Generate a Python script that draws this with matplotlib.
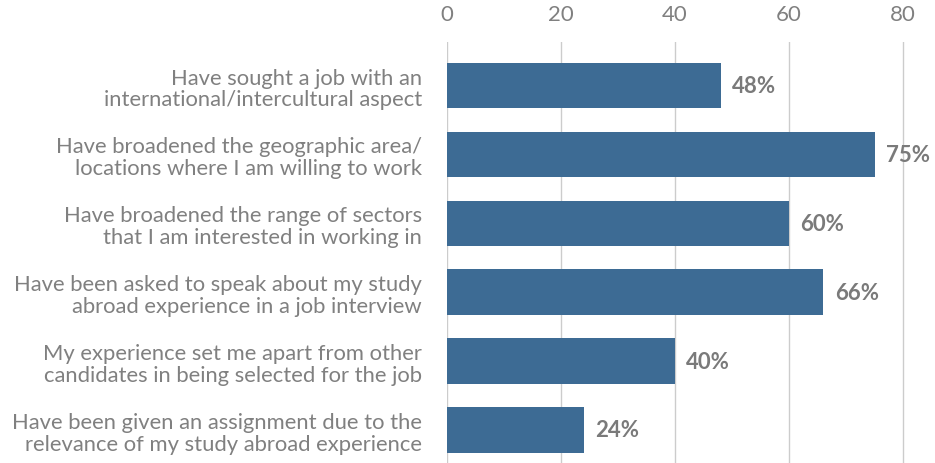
import matplotlib.pyplot as plt

labels = [
    "Have sought a job with an\ninternational/intercultural aspect",
    "Have broadened the geographic area/\nlocations where I am willing to work",
    "Have broadened the range of sectors\nthat I am interested in working in",
    "Have been asked to speak about my study\nabroad experience in a job interview",
    "My experience set me apart from other\ncandidates in being selected for the job",
    "Have been given an assignment due to the\nrelevance of my study abroad experience",
]
values = [48, 75, 60, 66, 40, 24]
ticks = [0, 20, 40, 60, 80]

plt.rcParams['font.family'] = ['Lato', 'DejaVu Sans']

fig = plt.figure(figsize=(9.35, 4.64), dpi=100)
ax = fig.add_axes([0.478, 0.0, 0.522, 0.907])

pos = list(range(len(values)))
ax.barh(pos, values, height=0.66, color='#3d6b94', zorder=2)

for p, v in zip(pos, values):
    ax.text(v + 2.0, p, f"{v}%", va='center', ha='left', fontsize=16,
            fontweight='bold', color='#7a7a7a', zorder=3)

ax.set_xlim(0, 85.6)
ax.set_ylim(5.48, -0.63)
ax.set_xticks(ticks)
ax.xaxis.tick_top()
ax.tick_params(axis='x', length=0, pad=13, labelsize=16, labelcolor='#808080')
ax.set_yticks(pos)
ax.set_yticklabels(labels, fontsize=15.8, color='#808080', linespacing=1.1)
ax.tick_params(axis='y', length=0, pad=18)
ax.grid(axis='x', color='#cccccc', linewidth=1, zorder=0)
for s in ax.spines.values():
    s.set_visible(False)

fig.savefig('out.png', dpi=100)
